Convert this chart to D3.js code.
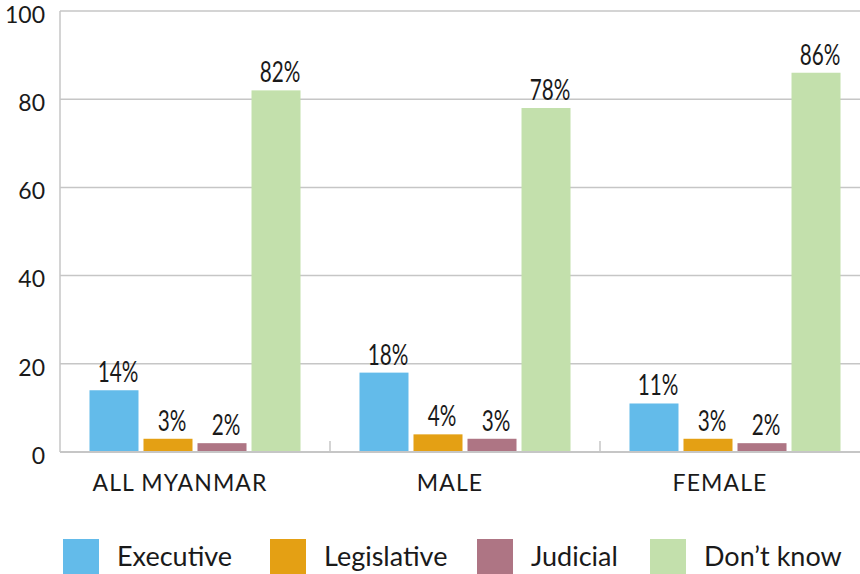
<!DOCTYPE html>
<html><head><meta charset="utf-8">
<script src="https://cdn.jsdelivr.net/npm/d3@7"></script>
<style>
body{margin:0;background:#fff;}
svg{display:block;}
</style></head>
<body>
<svg id="chart" width="860" height="574"></svg>
<script>
const categories = ["ALL MYANMAR", "MALE", "FEMALE"];
const seriesNames = ["Executive", "Legislative", "Judicial", "Don\u2019t know"];
const executive = [14, 18, 11];
const legislative = [3, 4, 3];
const judicial = [2, 3, 2];
const dontKnow = [82, 78, 86];
const yTicks = [0, 20, 40, 60, 80, 100];
const colors = ["#63bbea", "#e4a014", "#ae7584", "#c3e0ac"];

const seriesValues = [executive, legislative, judicial, dontKnow];
const svg = d3.select("#chart");
const mLeft = 60, mRight = 870, mTop = 11, mBottom = 452;

const y = d3.scaleLinear().domain([0, 100]).range([mBottom, mTop]);
const x0 = d3.scaleBand().domain(categories).range([mLeft, mRight]).padding(0);
const x1 = d3.scaleBand().domain(seriesNames).range([0, x0.bandwidth()])
  .paddingInner(5/54).paddingOuter(0.546);
const color = d3.scaleOrdinal().domain(seriesNames).range(colors);

const axisFont = "Lato, 'Noto Sans', sans-serif";

// gridlines
svg.append("g").selectAll("line").data(yTicks.filter(d => d > 0)).join("line")
  .attr("x1", mLeft).attr("x2", 860)
  .attr("y1", d => y(d)).attr("y2", d => y(d))
  .attr("stroke", "#c6c6c6").attr("stroke-width", 1.5);

// y tick labels
svg.append("g").selectAll("text").data(yTicks).join("text")
  .attr("x", 45).attr("y", d => y(d) + 6)
  .attr("text-anchor", "end").attr("dominant-baseline", "middle")
  .attr("font-family", axisFont).attr("font-size", 23).attr("fill", "#1a1a1a")
  .text(d => d);

// bars
const groups = svg.append("g").selectAll("g").data(categories).join("g")
  .attr("transform", d => `translate(${x0(d)},0)`);

const cells = groups.selectAll("g.cell")
  .data((c, ci) => seriesNames.map((s, si) => ({s, v: seriesValues[si][ci]})))
  .join("g").attr("class", "cell");

cells.append("rect")
  .attr("x", d => x1(d.s)).attr("width", x1.bandwidth())
  .attr("y", d => y(d.v)).attr("height", d => y(0) - y(d.v))
  .attr("fill", d => color(d.s));

cells.append("text")
  .attr("transform", d => `translate(${x1(d.s) + x1.bandwidth()/2 + 4},${y(d.v) - 8}) scale(0.74,1)`)
  .attr("text-anchor", "middle")
  .attr("font-family", axisFont).attr("font-size", 28).attr("fill", "#1a1a1a")
  .text(d => d.v + "%");

// axes lines
svg.append("line").attr("x1", mLeft).attr("x2", mLeft).attr("y1", mTop).attr("y2", mBottom)
  .attr("stroke", "#c6c6c6").attr("stroke-width", 1.5);
svg.append("line").attr("x1", mLeft).attr("x2", 860).attr("y1", mBottom).attr("y2", mBottom)
  .attr("stroke", "#c6c6c6").attr("stroke-width", 2);
// category boundary ticks
svg.append("g").selectAll("line").data(categories.slice(1)).join("line")
  .attr("x1", d => x0(d)).attr("x2", d => x0(d))
  .attr("y1", mBottom - 11).attr("y2", mBottom)
  .attr("stroke", "#c6c6c6").attr("stroke-width", 1.5);

// category labels
svg.append("g").selectAll("text").data(categories).join("text")
  .attr("x", d => x0(d) + x0.bandwidth()/2 - 15)
  .attr("y", 491)
  .attr("text-anchor", "middle")
  .attr("font-family", axisFont).attr("font-size", 23).attr("letter-spacing", 1.1)
  .attr("fill", "#1a1a1a")
  .text(d => d);

// legend
const legendX = [63, 270, 477, 650];
const leg = svg.append("g").selectAll("g").data(seriesNames).join("g")
  .attr("transform", (d, i) => `translate(${legendX[i]},539)`);
leg.append("rect").attr("width", 36).attr("height", 36).attr("fill", d => color(d));
leg.append("text").attr("x", 54).attr("y", 27)
  .attr("font-family", axisFont).attr("font-size", 27).attr("fill", "#1a1a1a")
  .text(d => d);
</script>
</body></html>
